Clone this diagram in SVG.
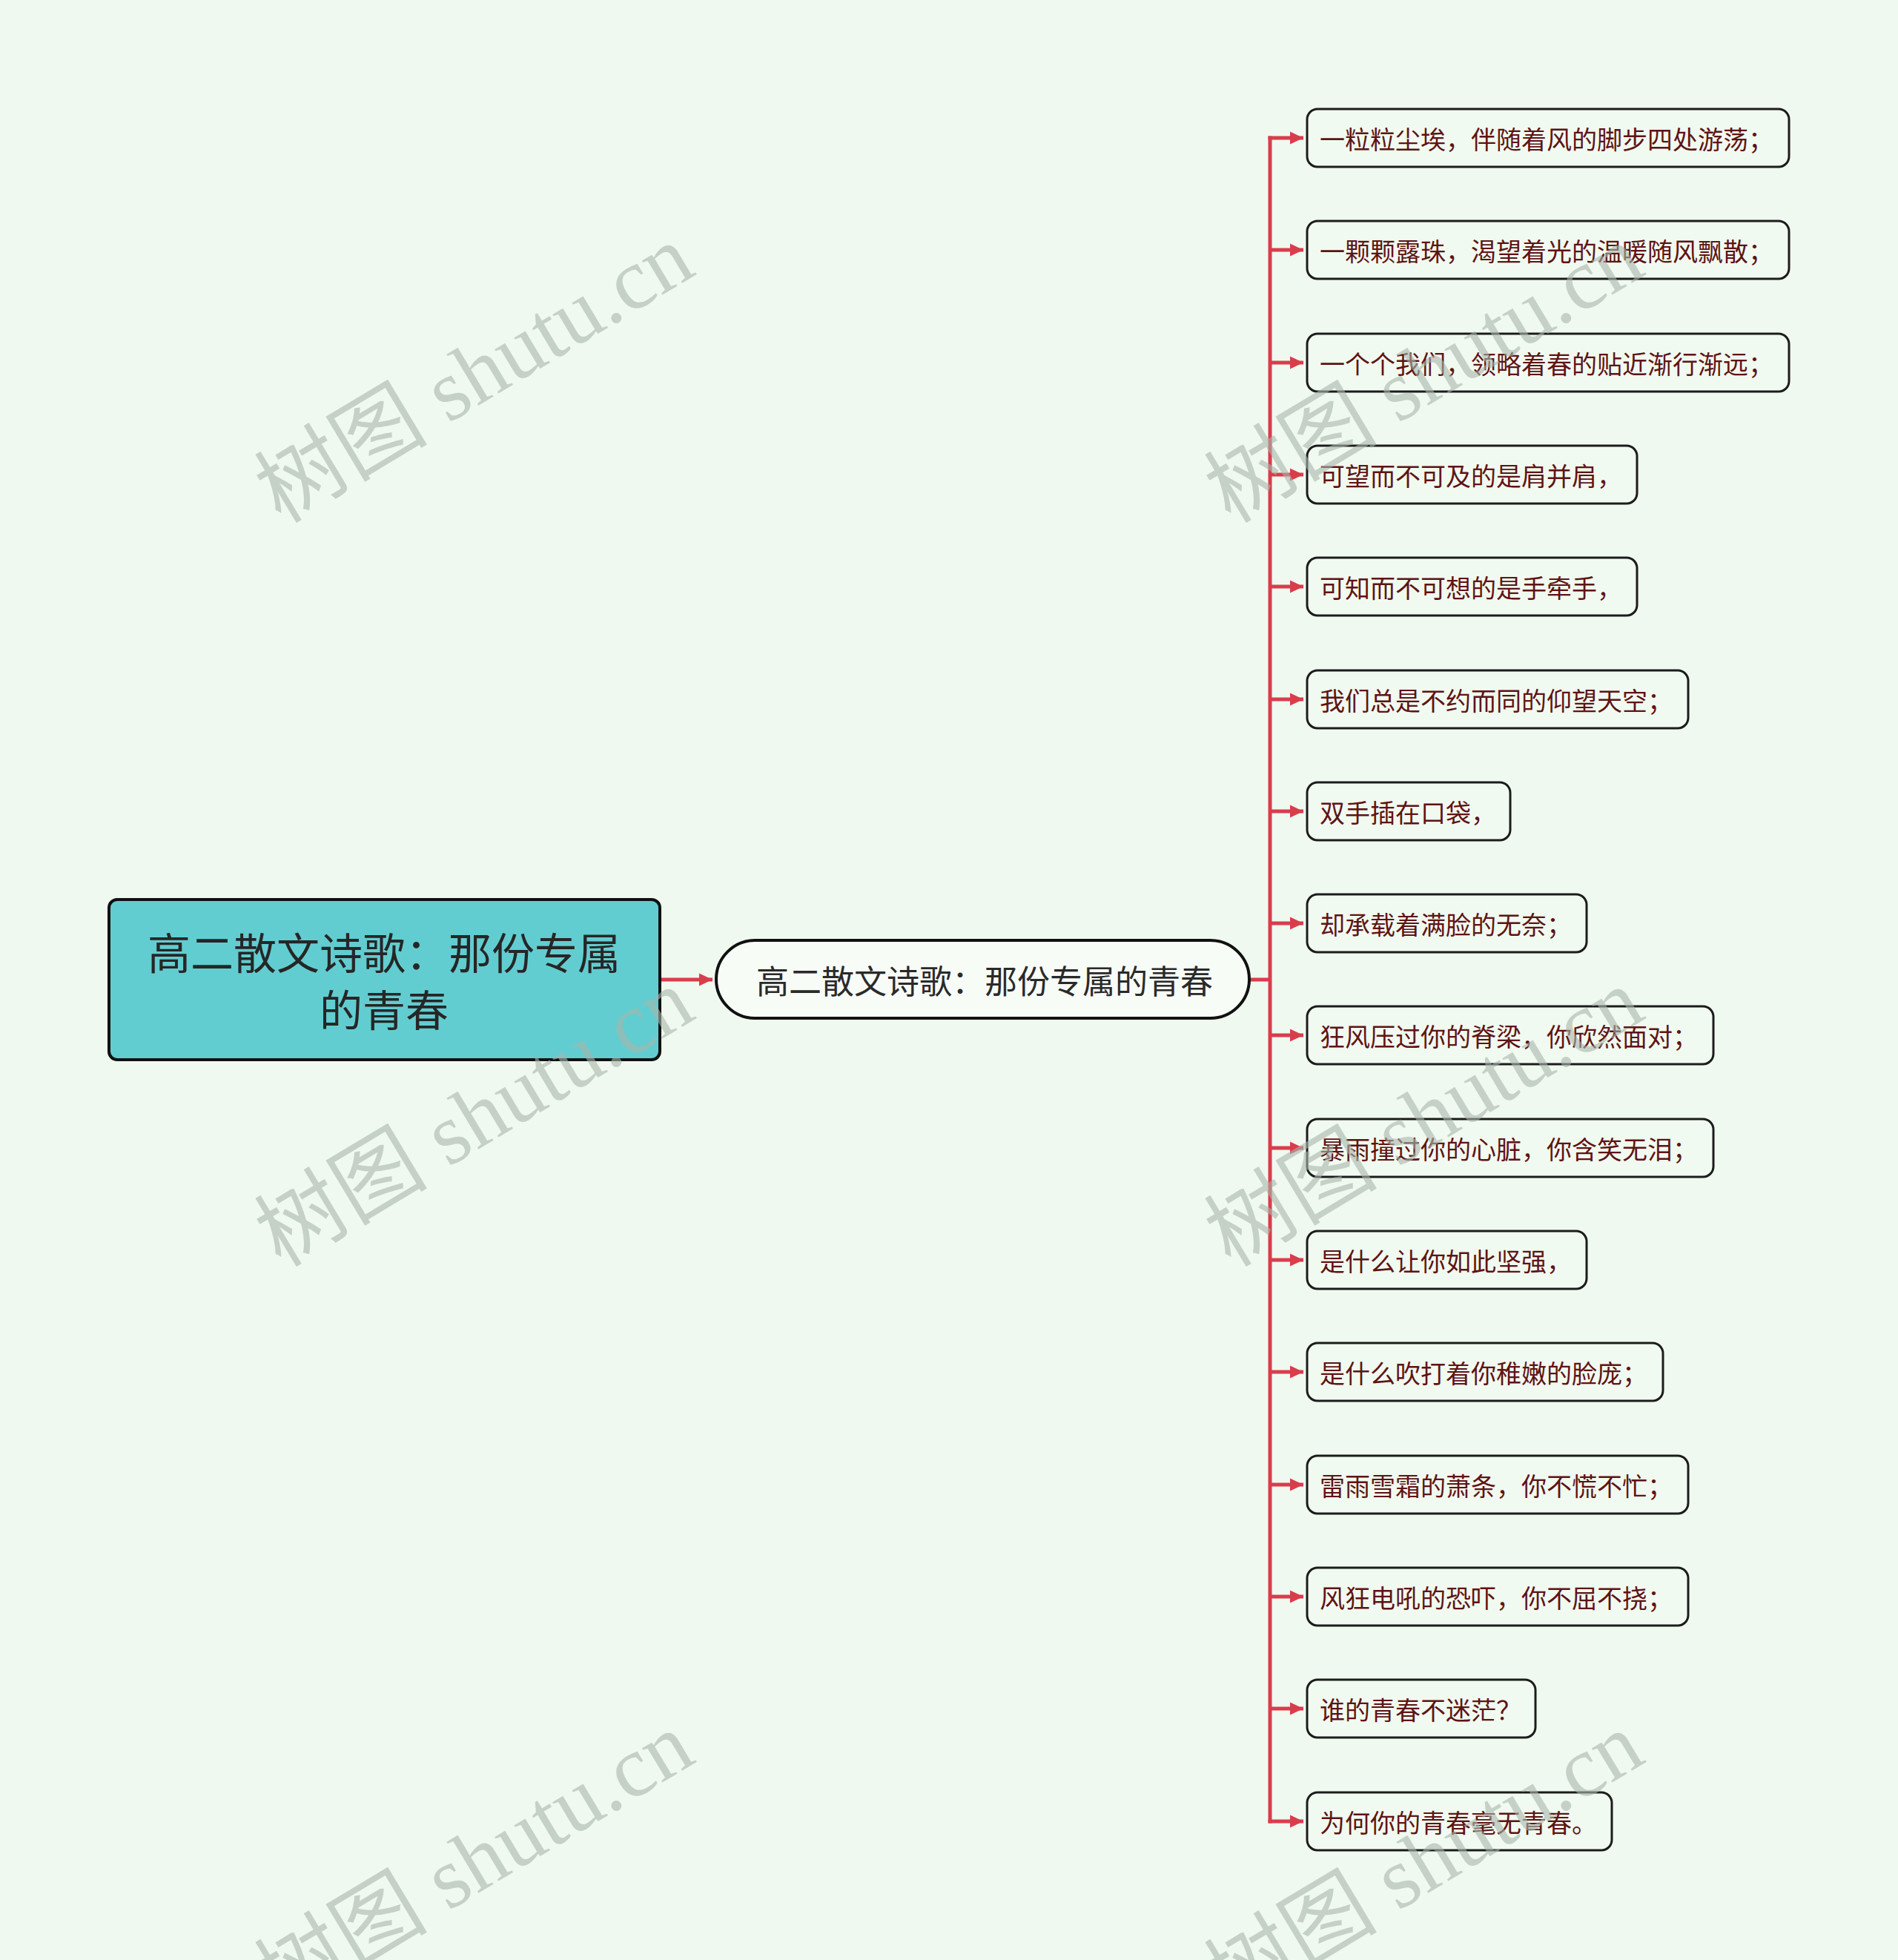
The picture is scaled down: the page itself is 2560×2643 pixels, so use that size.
<svg xmlns="http://www.w3.org/2000/svg" width="2560" height="2643" viewBox="0 0 2560 2643">
<defs>
<style>
.bg{fill:#f0f9ef}
.child rect{fill:#f1faf0;stroke:#1c1c1c;stroke-width:3}
.child text{font-family:"Noto Sans CJK SC","Noto Sans",sans-serif;font-size:34px;fill:#5e1414;dominant-baseline:central}
.conn line{stroke:#d93d4c;stroke-width:5;fill:none}
.wm{font-family:"Liberation Serif","Noto Sans CJK SC",serif;font-size:117px;fill:#a9b6ac;opacity:0.6;text-anchor:middle}
</style>
<marker id="arr" markerUnits="userSpaceOnUse" markerWidth="20" markerHeight="20" refX="18" refY="10" orient="auto" viewBox="0 0 20 20">
<path d="M0,1.5 L18,10 L0,18.5 z" fill="#d93d4c"/>
</marker>
</defs>
<rect class="bg" x="0" y="0" width="2560" height="2643"/>

<g id="connectors" class="conn">
<line x1="890" y1="1321" x2="961" y2="1321" marker-end="url(#arr)"/>
<line x1="1685" y1="1321" x2="1713" y2="1321"/>
<line x1="1713" y1="183.5" x2="1713" y2="2458.5"/>
<line x1="1710.5" y1="186" x2="1758" y2="186" marker-end="url(#arr)"/>
<line x1="1713" y1="337" x2="1758" y2="337" marker-end="url(#arr)"/>
<line x1="1713" y1="489" x2="1758" y2="489" marker-end="url(#arr)"/>
<line x1="1713" y1="640" x2="1758" y2="640" marker-end="url(#arr)"/>
<line x1="1713" y1="791" x2="1758" y2="791" marker-end="url(#arr)"/>
<line x1="1713" y1="943" x2="1758" y2="943" marker-end="url(#arr)"/>
<line x1="1713" y1="1094" x2="1758" y2="1094" marker-end="url(#arr)"/>
<line x1="1713" y1="1245" x2="1758" y2="1245" marker-end="url(#arr)"/>
<line x1="1713" y1="1396" x2="1758" y2="1396" marker-end="url(#arr)"/>
<line x1="1713" y1="1548" x2="1758" y2="1548" marker-end="url(#arr)"/>
<line x1="1713" y1="1699" x2="1758" y2="1699" marker-end="url(#arr)"/>
<line x1="1713" y1="1850" x2="1758" y2="1850" marker-end="url(#arr)"/>
<line x1="1713" y1="2002" x2="1758" y2="2002" marker-end="url(#arr)"/>
<line x1="1713" y1="2153" x2="1758" y2="2153" marker-end="url(#arr)"/>
<line x1="1713" y1="2304" x2="1758" y2="2304" marker-end="url(#arr)"/>
<line x1="1710.5" y1="2456" x2="1758" y2="2456" marker-end="url(#arr)"/>
</g>

<g id="root">
<rect x="147" y="1213" width="743" height="216" rx="11" fill="#62cdd0" stroke="#111" stroke-width="4"/>
<text x="518" y="1282" font-family="Noto Sans CJK SC, sans-serif" font-size="58" fill="#262626" text-anchor="middle" dominant-baseline="central">高二散文诗歌：那份专属</text>
<text x="518" y="1359" font-family="Noto Sans CJK SC, sans-serif" font-size="58" fill="#262626" text-anchor="middle" dominant-baseline="central">的青春</text>
</g>

<g id="center">
<rect x="966" y="1268" width="719" height="105" rx="52.5" fill="#f8fcf7" stroke="#111" stroke-width="4"/>
<text x="1328" y="1321" font-family="Noto Sans CJK SC, sans-serif" font-size="44" fill="#2a2a2a" text-anchor="middle" dominant-baseline="central">高二散文诗歌：那份专属的青春</text>
</g>

<g id="c1" class="child"><rect x="1763" y="147" width="650" height="78" rx="14"/><text x="1780" y="186">一粒粒尘埃，伴随着风的脚步四处游荡；</text></g>
<g id="c2" class="child"><rect x="1763" y="298" width="650" height="78" rx="14"/><text x="1780" y="337">一颗颗露珠，渴望着光的温暖随风飘散；</text></g>
<g id="c3" class="child"><rect x="1763" y="450" width="650" height="78" rx="14"/><text x="1780" y="489">一个个我们，领略着春的贴近渐行渐远；</text></g>
<g id="c4" class="child"><rect x="1763" y="601" width="445" height="78" rx="14"/><text x="1780" y="640">可望而不可及的是肩并肩，</text></g>
<g id="c5" class="child"><rect x="1763" y="752" width="445" height="78" rx="14"/><text x="1780" y="791">可知而不可想的是手牵手，</text></g>
<g id="c6" class="child"><rect x="1763" y="904" width="514" height="78" rx="14"/><text x="1780" y="943">我们总是不约而同的仰望天空；</text></g>
<g id="c7" class="child"><rect x="1763" y="1055" width="274" height="78" rx="14"/><text x="1780" y="1094">双手插在口袋，</text></g>
<g id="c8" class="child"><rect x="1763" y="1206" width="377" height="78" rx="14"/><text x="1780" y="1245">却承载着满脸的无奈；</text></g>
<g id="c9" class="child"><rect x="1763" y="1357" width="548" height="78" rx="14"/><text x="1780" y="1396">狂风压过你的脊梁，你欣然面对；</text></g>
<g id="c10" class="child"><rect x="1763" y="1509" width="548" height="78" rx="14"/><text x="1780" y="1548">暴雨撞过你的心脏，你含笑无泪；</text></g>
<g id="c11" class="child"><rect x="1763" y="1660" width="377" height="78" rx="14"/><text x="1780" y="1699">是什么让你如此坚强，</text></g>
<g id="c12" class="child"><rect x="1763" y="1811" width="480" height="78" rx="14"/><text x="1780" y="1850">是什么吹打着你稚嫩的脸庞；</text></g>
<g id="c13" class="child"><rect x="1763" y="1963" width="514" height="78" rx="14"/><text x="1780" y="2002">雷雨雪霜的萧条，你不慌不忙；</text></g>
<g id="c14" class="child"><rect x="1763" y="2114" width="514" height="78" rx="14"/><text x="1780" y="2153">风狂电吼的恐吓，你不屈不挠；</text></g>
<g id="c15" class="child"><rect x="1763" y="2265" width="308" height="78" rx="14"/><text x="1780" y="2304">谁的青春不迷茫？</text></g>
<g id="c16" class="child"><rect x="1763" y="2417" width="411" height="78" rx="14"/><text x="1780" y="2456">为何你的青春毫无青春。</text></g>

<g id="watermarks">
<text class="wm" transform="translate(660,538) rotate(-31)">树图 shutu.cn</text>
<text class="wm" transform="translate(1941,538) rotate(-31)">树图 shutu.cn</text>
<text class="wm" transform="translate(660,1541) rotate(-31)">树图 shutu.cn</text>
<text class="wm" transform="translate(1941,1541) rotate(-31)">树图 shutu.cn</text>
<text class="wm" transform="translate(660,2544) rotate(-31)">树图 shutu.cn</text>
<text class="wm" transform="translate(1941,2544) rotate(-31)">树图 shutu.cn</text>
</g>
</svg>
